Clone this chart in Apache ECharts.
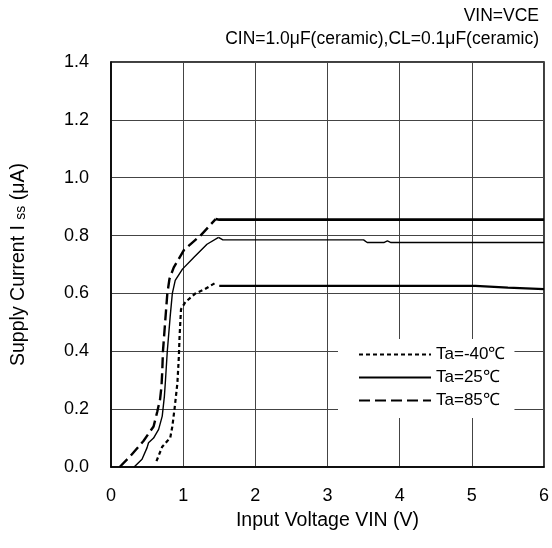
<!DOCTYPE html>
<html>
<head>
<meta charset="utf-8">
<script src="https://cdn.jsdelivr.net/npm/echarts@6/dist/echarts.min.js"></script>
<style>html,body{margin:0;padding:0;background:#fff}#c{width:552px;height:548px}</style>
</head>
<body>
<div id="c"></div>
<script>
// Tick labels
const xTicks = [0, 1, 2, 3, 4, 5, 6];
const yTicks = ['0.0', '0.2', '0.4', '0.6', '0.8', '1.0', '1.2', '1.4'];
const seriesNames = ['Ta=-40℃', 'Ta=25℃', 'Ta=85℃'];

// Ta=-40℃ : rising part and flat part [VIN (V), Iss (µA)]
const taM40Rise = [[0.63,0.02],[0.71,0.07],[0.78,0.09],[0.82,0.10],[0.85,0.14],[0.88,0.20],[0.92,0.29],[0.94,0.38],[0.95,0.45],[0.97,0.545],[1.03,0.57],[1.17,0.60],[1.30,0.615],[1.47,0.64]];
const taM40Flat = [[1.50,0.626],[5.05,0.626],[5.07,0.620],[5.50,0.620],[5.52,0.615],[6.00,0.615]];

// Ta=25℃
const ta25Rise = [[0.32,0.0],[0.43,0.027],[0.50,0.067],[0.52,0.084],[0.59,0.10],[0.66,0.13],[0.71,0.176],[0.74,0.245],[0.755,0.30],[0.78,0.40],[0.82,0.52],[0.85,0.60],[0.89,0.645],[0.99,0.684],[1.15,0.725],[1.33,0.77],[1.49,0.794]];
const ta25Flat = [[1.49,0.794],[1.55,0.785],[3.50,0.785],[3.55,0.776],[3.78,0.776],[3.83,0.782],[3.88,0.776],[6.00,0.776]];

// Ta=85℃
const ta85Rise = [[0.12,0.0],[0.27,0.038],[0.45,0.09],[0.59,0.14],[0.64,0.19],[0.68,0.234],[0.70,0.28],[0.71,0.33],[0.72,0.40],[0.75,0.50],[0.78,0.598],[0.81,0.65],[0.87,0.69],[1.01,0.75],[1.24,0.80],[1.45,0.857]];
const ta85Flat = [[1.45,0.857],[1.50,0.855],[6.00,0.855]];

const FONT = 'Liberation Sans, Arial, sans-serif';
const chart = echarts.init(document.getElementById('c'), null, {renderer: 'canvas'});

function line(name, data, type, width) {
  return {
    name: name, type: 'line', data: data, symbol: 'none', showSymbol: false,
    smooth: false, animation: false, silent: true,
    itemStyle: {color: '#000'},
    lineStyle: {color: '#000', width: width, type: type}
  };
}

chart.setOption({
  animation: false,
  backgroundColor: '#fff',
  textStyle: {fontFamily: FONT, color: '#000'},
  grid: {left: 111, right: 8, top: 62, bottom: 81, show: true, borderColor: '#000', borderWidth: 1.5, backgroundColor: 'transparent'},
  title: [
    {text: 'VIN=VCE', right: 8, top: 2, textStyle: {fontFamily: FONT, fontSize: 17.5, fontWeight: 'normal', color: '#000'}},
    {text: 'CIN=1.0μF(ceramic),CL=0.1μF(ceramic)', right: 8, top: 25, textStyle: {fontFamily: FONT, fontSize: 17.5, fontWeight: 'normal', color: '#000'}}
  ],
  legend: {
    data: seriesNames,
    orient: 'vertical',
    left: 338, top: 339,
    backgroundColor: '#fff',
    padding: [7, 9, 9, 20],
    itemWidth: 72, itemHeight: 14, itemGap: 6,
    itemStyle: {opacity: 0},
    textStyle: {fontFamily: FONT, fontSize: 17, color: '#000'},
    selectedMode: false
  },
  xAxis: {
    type: 'value', min: 0, max: 6, interval: 1,
    name: 'Input Voltage VIN (V)', nameLocation: 'middle', nameGap: 44,
    nameTextStyle: {fontFamily: FONT, fontSize: 19.5, color: '#000'},
    axisLine: {show: true, lineStyle: {color: '#000', width: 1.5}},
    axisTick: {show: false},
    axisLabel: {fontFamily: FONT, fontSize: 18, color: '#000', margin: 20,
      formatter: v => String(xTicks[Math.round(v)])},
    splitLine: {show: true, lineStyle: {color: '#444', width: 1}}
  },
  yAxis: {
    type: 'value', min: 0, max: 1.4, interval: 0.2,
    name: '{a|Supply Current I }{s|ss}{a| (μA)}', nameLocation: 'middle', nameGap: 82, nameRotate: 90,
    nameTextStyle: {fontFamily: FONT, fontSize: 19.5, color: '#000',
      rich: {a: {fontFamily: FONT, fontSize: 19.5, color: '#000'}, s: {fontFamily: FONT, fontSize: 14, color: '#000', padding: [5, 0, 0, 0]}}},
    axisLine: {show: true, lineStyle: {color: '#000', width: 1.5}},
    axisTick: {show: false},
    axisLabel: {fontFamily: FONT, fontSize: 18, color: '#000', margin: 22,
      formatter: v => yTicks[Math.round(v / 0.2)]},
    splitLine: {show: true, lineStyle: {color: '#444', width: 1}}
  },
  series: [
    line(seriesNames[0], taM40Rise, [4, 3], 2.2),
    line(seriesNames[1], ta25Rise, 'solid', 1.4),
    line(seriesNames[2], ta85Rise, [11, 5], 2.4),
    line('f40', taM40Flat, 'solid', 2.4),
    line('f25', ta25Flat, 'solid', 1.4),
    line('f85', ta85Flat, 'solid', 2.6)
  ]
});
</script>
</body>
</html>
